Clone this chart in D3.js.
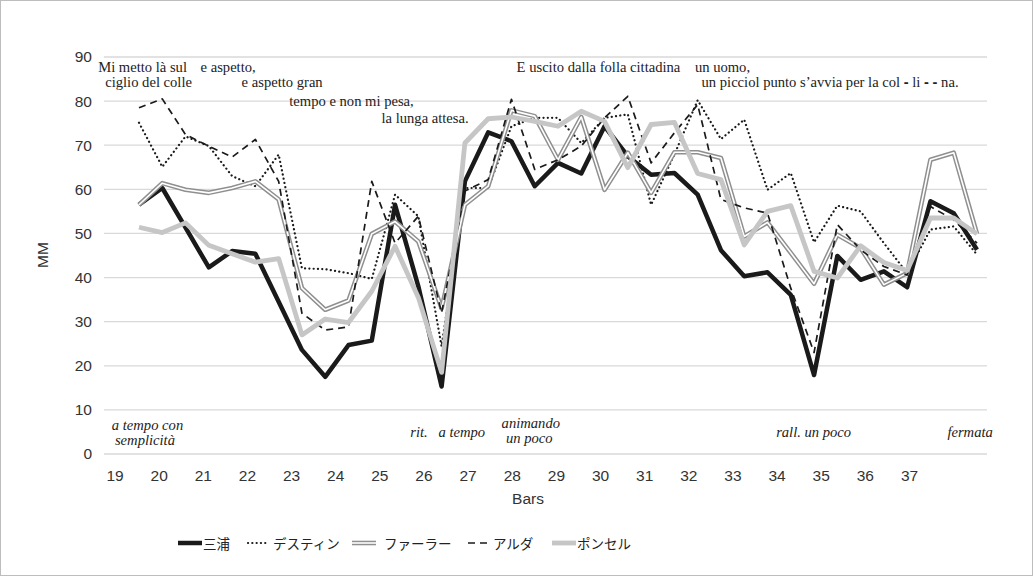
<!DOCTYPE html>
<html><head><meta charset="utf-8">
<script src="https://cdn.jsdelivr.net/npm/d3@7"></script>
<style>html,body{margin:0;padding:0;background:#fff;}svg{display:block;}</style>
</head><body>
<script>
// ---- data ----
const barTicks = [19,20,21,22,23,24,25,26,27,28,29,30,31,32,33,34,35,36,37];
const yTicks = [0,10,20,30,40,50,60,70,80,90];
const pointIndex = d3.range(37);
const miura   = [56.5,60.3,51.3,42.3,46.0,45.4,34.5,23.6,17.5,24.7,25.7,56.5,38.0,15.3,61.8,72.9,70.9,60.7,66.0,63.6,74.3,67.5,63.3,63.7,58.8,46.2,40.3,41.2,36.1,17.9,44.9,39.5,41.4,37.8,57.3,54.6,46.3];
const destin  = [75.1,65.1,72.0,69.8,63.0,60.7,67.9,42.1,41.9,41.0,39.7,58.8,53.9,24.4,60.3,60.3,74.3,76.2,76.2,70.5,76.2,77.0,56.5,67.9,80.2,71.4,75.8,59.9,63.7,48.0,56.3,55.0,47.8,41.0,50.9,51.6,45.2];
const farrer  = [56.5,61.4,59.9,59.2,60.3,61.8,57.7,37.6,32.7,34.8,49.9,52.7,48.2,33.0,56.5,60.7,77.9,76.6,66.7,76.4,59.9,68.3,59.2,68.4,68.4,67.1,49.3,52.5,45.6,38.6,49.7,46.7,38.4,41.0,66.7,68.3,49.9];
const alda    = [78.5,80.5,72.4,69.8,67.3,71.3,61.8,31.9,28.1,28.8,61.8,47.8,53.9,32.0,59.6,62.2,80.4,64.5,66.7,69.8,76.2,81.1,66.0,72.8,79.2,57.7,55.8,54.6,37.6,23.0,52.0,46.3,42.5,40.6,56.1,53.1,47.8];
const poncel  = [51.4,50.2,52.4,47.3,45.4,43.5,44.3,27.0,30.6,29.8,36.9,47.1,35.5,18.5,70.5,76.0,76.4,75.4,74.3,77.7,75.4,64.9,74.7,75.2,63.6,62.2,47.4,55.0,56.3,41.4,39.9,47.2,43.4,41.6,53.5,53.5,49.9];
const seriesNames = ["三浦","デスティン","ファーラー","アルダ","ポンセル"];
const lyrics = [
  {t:"Mi metto là sul", bar:18.63, v:86.7},
  {t:"ciglio del colle", bar:18.79, v:83.1},
  {t:"e aspetto,", bar:20.95, v:86.7},
  {t:"e aspetto gran", bar:21.88, v:83.1},
  {t:"tempo e non mi pesa,", bar:22.96, v:79.0},
  {t:"la lunga attesa.", bar:25.05, v:75.1},
  {t:"E uscito dalla folla cittadina", bar:28.11, v:86.6},
  {t:"un uomo,", bar:32.15, v:86.6},
  {t:"un picciol punto  s’avvia per la col | li | | na.", bar:32.30, v:83.1}
];
const marks = [
  {t:"a tempo con", bar:18.94, v:5.44},
  {t:"semplicità", bar:19.01, v:2.0},
  {t:"rit.", bar:25.70, v:3.95},
  {t:"a tempo", bar:26.34, v:3.95},
  {t:"animando", bar:27.77, v:5.97},
  {t:"un poco", bar:27.87, v:2.42},
  {t:"rall. un poco", bar:33.99, v:3.95},
  {t:"fermata", bar:37.87, v:3.95}
];

// ---- layout ----
const W = 1033, H = 576;
const svg = d3.select("body").append("svg").attr("width", W).attr("height", H);
svg.append("rect").attr("x",0.5).attr("y",0.5).attr("width",W-1).attr("height",H-1)
  .attr("fill","#fff").attr("stroke","#bdbdbd");

const plotL = 104, plotR = 987;
const y = d3.scaleLinear().domain([0,90]).range([454,57]);
const xBar = d3.scaleLinear().domain([19,37]).range([114.5,909]);
const xPt = d3.scaleLinear().domain([0,36]).range([139,977]);

// grid
svg.append("g").selectAll("line").data(yTicks).join("line")
  .attr("x1",plotL).attr("x2",plotR)
  .attr("y1",d=>y(d)).attr("y2",d=>y(d))
  .attr("stroke","#d9d9d9").attr("stroke-width",1.3);

// y axis labels
const sans = "'Liberation Sans', Arial, sans-serif";
const yAxis = d3.axisLeft(y).tickValues(yTicks).tickSize(0).tickPadding(0);
const gy = svg.append("g").attr("transform","translate(92,0)").call(yAxis);
gy.select(".domain").remove();
gy.selectAll("text").attr("font-family",sans).attr("font-size",15.5).attr("fill","#333");

// x axis labels
const xAxis = d3.axisBottom(xBar).tickValues(barTicks).tickSize(0).tickPadding(0).tickFormat(d3.format("d"));
const gx = svg.append("g").attr("transform","translate(0,470)").call(xAxis);
gx.select(".domain").remove();
gx.selectAll("text").attr("font-family",sans).attr("font-size",15.5).attr("fill","#333");

svg.append("text").attr("x",528).attr("y",504).attr("text-anchor","middle")
  .attr("font-family",sans).attr("font-size",15.5).attr("fill","#333").text("Bars");
svg.append("text").attr("transform","translate(48,255) rotate(-90)").attr("text-anchor","middle")
  .attr("font-family",sans).attr("font-size",15.5).attr("fill","#333").text("MM");

// lyrics
const serif = "'Liberation Serif','Times New Roman',serif";
const lg = svg.append("g").attr("font-family",serif).attr("font-size",14.6).attr("fill","#222")
  .style("white-space","pre");
lyrics.forEach(d=>{
  const t = lg.append("text").attr("x",xBar(d.bar)).attr("y",y(d.v));
  d.t.split("|").forEach((part,i)=>{
    if(i>0) t.append("tspan").attr("font-weight","bold").attr("font-family",sans).text("-");
    t.append("tspan").text(part);
  });
});
const mg = svg.append("g").attr("font-family",serif).attr("font-style","italic").attr("font-size",14.6).attr("fill","#222");
marks.forEach(d=>{
  mg.append("text").attr("x",xBar(d.bar)).attr("y",y(d.v)).text(d.t);
});

// lines
const line = d3.line().x((d,i)=>xPt(pointIndex[i])).y(d=>y(d));
const styles = [
  {data:miura, layers:[{stroke:"#1a1a1a", w:4.5}]},
  {data:destin, layers:[{stroke:"#1a1a1a", w:2.2, dash:"0.1,4.2", cap:"round"}]},
  {data:farrer, layers:[{stroke:"#8f8f8f", w:4.6},{stroke:"#ffffff", w:1.6}]},
  {data:alda, layers:[{stroke:"#1a1a1a", w:1.7, dash:"7,5"}]},
  {data:poncel, layers:[{stroke:"#c6c6c6", w:4.8}]}
];
const lines = svg.append("g");
styles.forEach(s=>{
  s.layers.forEach(l=>{
    lines.append("path").datum(s.data).attr("d",line)
      .attr("fill","none").attr("stroke",l.stroke).attr("stroke-width",l.w)
      .attr("stroke-dasharray",l.dash||null).attr("stroke-linecap",l.cap||"butt")
      .attr("stroke-linejoin","round");
  });
});

// legend
const legX = [178, 248, 352, 468, 552];
const legW = [24, 18, 24, 24, 24];
const leg = svg.append("g");
styles.forEach((s,i)=>{
  s.layers.forEach(l=>{
    leg.append("line").attr("x1",legX[i]).attr("x2",legX[i]+legW[i]).attr("y1",543).attr("y2",543)
      .attr("stroke",l.stroke).attr("stroke-width",l.w)
      .attr("stroke-dasharray",l.dash||null).attr("stroke-linecap",l.cap||"butt");
  });
  leg.append("text").attr("x",legX[i]+legW[i]+(i===1?7:(i===2?8:1))).attr("y",548.5)
    .attr("font-family","'Noto Sans CJK JP',sans-serif").attr("font-size",13.5).attr("fill","#222")
    .text(seriesNames[i]);
});
</script>
</body></html>
